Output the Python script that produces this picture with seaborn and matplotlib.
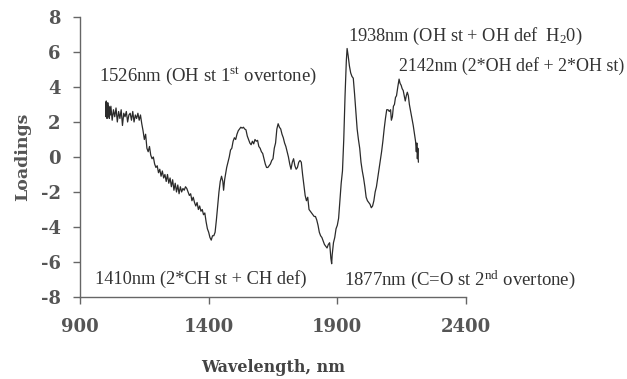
import matplotlib
matplotlib.use("Agg")
import matplotlib.pyplot as plt
import seaborn as sns
import pandas as pd

# ---- data ----
wavelength = [
    1000, 1001, 1002, 1003, 1004, 1005, 1006, 1007, 1008, 1010, 1012, 1014, 1016, 1018, 1020,
    1025, 1030, 1035, 1040, 1045, 1050, 1055, 1060, 1065, 1070, 1075, 1080, 1085, 1090, 1095,
    1100, 1105, 1110, 1115, 1120, 1125, 1130, 1135, 1140, 1145, 1150, 1155, 1160, 1165, 1170,
    1175, 1180, 1185, 1190, 1195, 1200, 1205, 1210, 1215, 1220, 1225, 1230, 1235, 1240, 1245,
    1250, 1255, 1260, 1265, 1270, 1275, 1280, 1285, 1290, 1295, 1300, 1305, 1310, 1315, 1320,
    1325, 1330, 1335, 1340, 1345, 1350, 1355, 1360, 1365, 1370, 1375, 1380, 1385, 1390, 1395,
    1400, 1405, 1410, 1415, 1420, 1425, 1430, 1435, 1440, 1445, 1450, 1455, 1458, 1462, 1470,
    1475, 1480, 1485, 1490, 1495, 1500, 1505, 1510, 1515, 1520, 1525, 1530, 1535, 1540, 1545,
    1550, 1555, 1560, 1565, 1570, 1575, 1580, 1585, 1590, 1595, 1600, 1605, 1610, 1615, 1620,
    1625, 1630, 1635, 1640, 1645, 1650, 1655, 1660, 1665, 1670, 1675, 1680, 1685, 1690, 1695,
    1700, 1705, 1710, 1715, 1720, 1725, 1730, 1735, 1740, 1745, 1750, 1755, 1760, 1765, 1770,
    1775, 1780, 1785, 1790, 1795, 1800, 1805, 1810, 1815, 1820, 1825, 1830, 1835, 1840, 1845,
    1850, 1855, 1860, 1865, 1870, 1875, 1878, 1880, 1885, 1890, 1895, 1900, 1905, 1910, 1915,
    1920, 1925, 1930, 1935, 1938, 1942, 1947, 1952, 1957, 1962, 1967, 1972, 1977, 1982, 1987,
    1992, 1997, 2002, 2007, 2012, 2017, 2022, 2027, 2032, 2037, 2042, 2047, 2052, 2057, 2062,
    2067, 2072, 2077, 2082, 2087, 2092, 2097, 2102, 2107, 2110, 2114, 2118, 2122, 2126, 2130,
    2135, 2140, 2144, 2148, 2152, 2156, 2160, 2164, 2168, 2172, 2176, 2180, 2185, 2190, 2195,
    2200, 2204, 2207, 2209, 2211, 2213, 2215,
]
loadings = [
    3.1, 2.3, 3.2, 2.4, 3.0, 2.2, 2.9, 2.5, 3.1, 2.3, 2.9, 2.2, 2.8, 2.4, 2.9,
    2.1, 2.7, 2.3, 2.8, 2.0, 2.6, 2.2, 2.7, 1.8, 2.5, 2.3, 2.6, 2.0, 2.4, 2.5,
    2.1, 2.6, 2.0, 2.4, 2.2, 2.5, 2.1, 2.4, 1.9, 1.5, 1.0, 1.3, 0.5, 0.3, 0.6,
    0.1, -0.1, 0.0, -0.4, -0.6, -0.5, -0.9, -0.7, -1.1, -0.8, -1.2, -1.0, -1.4, -1.0, -1.5,
    -1.2, -1.7, -1.3, -1.9, -1.5, -2.0, -1.6, -2.1, -1.7, -2.0, -1.8, -1.9, -1.7, -1.8, -2.0,
    -2.2, -2.1, -2.5, -2.3, -2.6, -2.8, -2.6, -3.0, -2.8, -3.1, -3.0, -3.3, -3.2, -3.7, -4.1,
    -4.3, -4.6, -4.75, -4.5, -4.5, -4.3, -3.6, -2.8, -2.0, -1.4, -1.1, -1.4, -1.9, -1.3, -0.6,
    -0.3, 0.0, 0.4, 0.5, 0.9, 1.1, 1.0, 1.3, 1.5, 1.6, 1.7, 1.65, 1.7, 1.6, 1.55,
    1.2, 1.0, 0.8, 0.7, 0.9, 0.75, 1.0, 0.9, 0.95, 0.6, 0.5, 0.3, 0.2, -0.1, -0.4,
    -0.6, -0.6, -0.5, -0.4, -0.2, -0.1, 0.5, 0.8, 1.6, 1.9, 1.7, 1.6, 1.3, 1.1, 0.8,
    0.6, 0.3, 0.0, -0.4, -0.7, -0.3, -0.1, -0.5, -0.7, -0.6, -0.3, -0.2, -0.3, -1.0, -1.6,
    -2.2, -2.5, -2.3, -3.0, -3.1, -3.2, -3.3, -3.4, -3.4, -3.6, -3.9, -4.3, -4.5, -4.6, -4.8,
    -5.0, -5.1, -5.2, -5.0, -4.9, -5.8, -6.1, -5.6, -4.9, -4.6, -4.1, -3.9, -3.5, -2.5, -1.5,
    -0.8, 1.0, 3.5, 5.5, 6.2, 5.8, 5.2, 4.8, 4.6, 4.5, 3.6, 2.6, 1.6, 1.0, 0.5,
    -0.3, -0.8, -1.2, -1.7, -2.3, -2.5, -2.6, -2.7, -2.9, -2.8, -2.5, -2.0, -1.7, -1.2, -0.7,
    -0.2, 0.3, 0.9, 1.6, 2.2, 2.7, 2.7, 2.6, 2.7, 2.1, 2.3, 2.9, 3.0, 3.4, 3.5,
    4.0, 4.45, 4.2, 4.1, 3.9, 3.8, 3.5, 3.2, 3.5, 3.7, 3.5, 3.0, 2.6, 2.2, 1.8,
    1.3, 0.9, 0.3, 0.8, -0.1, 0.5, -0.3,
]
x_ticks = [900, 1400, 1900, 2400]
y_ticks = [-8, -6, -4, -2, 0, 2, 4, 6, 8]
annotations = [
    (972, 4.6, r"1526nm (OH st 1$^{\mathrm{st}}$ overtone)", 13.5),
    (1940, 6.9, r"1938nm (OH st + OH def  H$_{2}$0)", 13.2),
    (2140, 5.2, r"2142nm (2*OH def + 2*OH st)", 12.9),
    (957, -6.95, r"1410nm (2*CH st + CH def)", 13.2),
    (1925, -7.0, r"1877nm (C=O st 2$^{\mathrm{nd}}$ overtone)", 13.5),
]

df = pd.DataFrame({"Wavelength": wavelength, "Loadings": loadings})

sns.set_style("ticks")
plt.rcParams["font.family"] = ["Liberation Serif", "DejaVu Serif"]
plt.rcParams["mathtext.fontset"] = "custom"
plt.rcParams["mathtext.rm"] = "Liberation Serif"
plt.rcParams["mathtext.it"] = "Liberation Serif:italic"
plt.rcParams["mathtext.bf"] = "Liberation Serif:bold"

fig = plt.figure(figsize=(6.27, 3.79), dpi=100)
ax = fig.add_axes([0.1276, 0.2164, 0.6156, 0.7388])

sns.lineplot(data=df, x="Wavelength", y="Loadings", ax=ax, color="#2b2b2b",
             linewidth=0.9, estimator=None, sort=False)

ax.set_xlim(900, 2400)
ax.set_ylim(-8, 8)
ax.set_xticks(x_ticks)
ax.set_yticks(y_ticks)
ax.set_xticklabels([str(t) for t in x_ticks])
ax.set_yticklabels([str(t) for t in y_ticks])
sns.despine(ax=ax)
for s in ["left", "bottom"]:
    ax.spines[s].set_color("#666666")
    ax.spines[s].set_linewidth(1.0)
ax.tick_params(axis="both", direction="out", length=5, width=1.0, color="#666666",
               labelcolor="#555555")
for lab in ax.get_xticklabels() + ax.get_yticklabels():
    lab.set_fontweight("bold")
    lab.set_fontfamily("DejaVu Serif")
    lab.set_fontsize(13)
ax.tick_params(axis="x", pad=10)
ax.tick_params(axis="y", pad=9)

ax.set_xlabel("Wavelength, nm", fontsize=11.5, fontweight="bold", color="#444444",
              labelpad=17, fontfamily="DejaVu Serif")
ax.set_ylabel("Loadings", fontsize=12.5, fontweight="bold", color="#555555",
              labelpad=7, fontfamily="DejaVu Serif")

for x, y, txt, fs in annotations:
    ax.text(x, y, txt, ha="left", va="center", fontsize=fs,
            color="#333333", clip_on=False)

fig.savefig("out.png", dpi=100)
